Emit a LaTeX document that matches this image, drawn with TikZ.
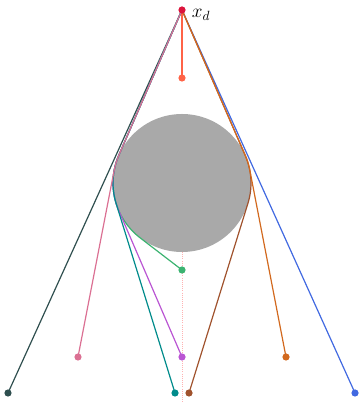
\documentclass[tikz,border=0pt]{standalone}
\usepackage{amsmath,amssymb}
\usetikzlibrary{positioning}
\definecolor{cxd}{HTML}{DC143C}
\definecolor{cred}{HTML}{FF6347}
\definecolor{cgreen}{HTML}{3CB371}
\definecolor{cpurple}{HTML}{BA55D3}
\definecolor{cteal}{HTML}{008B8B}
\definecolor{cbrown}{HTML}{A0522D}
\definecolor{cpink}{HTML}{DB7093}
\definecolor{corange}{HTML}{D2691E}
\definecolor{cslate}{HTML}{2F4F4F}
\definecolor{cblue}{HTML}{4169E1}
\definecolor{cdisk}{HTML}{A9A9A9}
\tikzset{
  pt/.style={circle, fill=#1, inner sep=0pt, minimum size=5.4pt},
  route/.style={line width=0.9pt},
  obstacle/.style={circle, fill=cdisk, inner sep=0pt, outer sep=0pt},
  shadow/.style={densely dotted, red!30, line width=0.6pt},
}
\def\rad{69}

\begin{document}
\begin{tikzpicture}[x=0.75pt, y=0.75pt]
  \useasboundingbox (0,0) rectangle (359,402);
  \node[obstacle, minimum size=103.5pt] (c) at (182,219) {};
  \coordinate (xd) at (182,392);
  \coordinate (red) at (182,324);
  \coordinate (green) at (182,132);
  \coordinate (purple) at (182,45);
  \coordinate (teal) at (175,9);
  \coordinate (brown) at (189,9);
  \coordinate (pink) at (78,45);
  \coordinate (orange) at (286,45);
  \coordinate (slate) at (8,9);
  \coordinate (blue) at (355,9);
  \coordinate (floor) at (182,0);
  \draw[shadow] (c.south) -- (floor);
  % straight routes
  \draw[route, cslate] (xd) -- (slate);
  \draw[route, cblue] (xd) -- (blue);
  \draw[route, cred] (xd) -- (red);
  % routes wrapping round the disk
  \foreach \q/\ta/\tb in {green/156.5/232.5, purple/156.5/203.4, teal/156.5/197.26, pink/156.5/169.0,
                          brown/23.5/-17.26, orange/23.5/11.0}
    \draw[route, c\q] (xd) -- ([shift={(\ta:\rad)}]c.center) arc[start angle=\ta, end angle=\tb, radius=\rad] -- (\q);
  \foreach \q in {red,green,purple,teal,brown,pink,orange,slate,blue}
    \node[pt=c\q] (d\q) at (\q) {};
  \node[pt=cxd] (dxd) at (xd) {};
  \node[right=1pt of dxd, yshift=-3.5pt, font=\Large] (lxd) {$x_d$};
\end{tikzpicture}
\end{document}
